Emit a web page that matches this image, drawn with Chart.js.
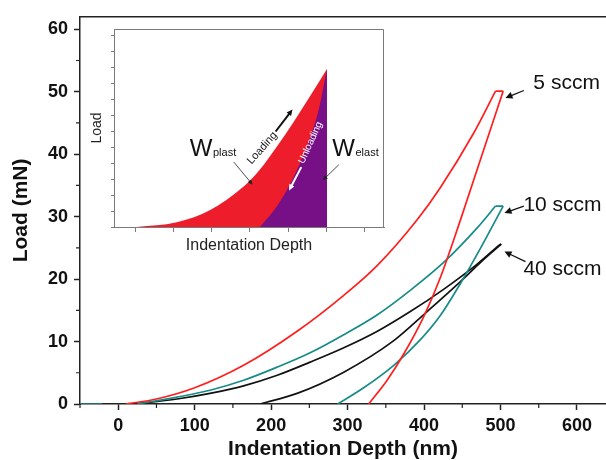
<!DOCTYPE html>
<html lang="en">
<head>
<meta charset="UTF-8">
<title>Load vs Indentation Depth</title>
<script src="https://cdn.jsdelivr.net/npm/chart.js"></script>
<style>
  html, body { margin: 0; padding: 0; background: #fff; }
  #wrap { position: relative; width: 606px; height: 460px; overflow: hidden; }
  #main { position: absolute; left: 0; top: 0; width: 606px; height: 460px; }
  #inset { position: absolute; left: 84px; top: 24px; width: 310px; height: 235px; }
</style>
</head>
<body>
<div id="wrap">
  <canvas id="main" width="606" height="460"></canvas>
  <canvas id="inset" width="310" height="235"></canvas>
</div>
<script>
  const FONT = "'Liberation Sans', Arial, sans-serif";

  // 5 sccm (red)
  const load5x = [10, 50, 100, 164, 234, 295, 339, 391, 421, 465, 493.5];
  const load5y = [0, 0.8, 2.6, 6.2, 11.65, 17.4, 22.2, 29.5, 34.6, 43.4, 50.1];
  const unload5x = [327.6, 351.7, 373.4, 399.6, 421.5, 448, 475, 503.5];
  const unload5y = [0, 3.8, 8, 14, 20.3, 29.6, 39.6, 50.1];

  // 10 sccm (teal)
  const lead10x = [-50, -21];
  const lead10y = [0, 0];
  const load10x = [25, 77, 120, 164, 208, 251, 295, 339, 382, 426, 469.5, 493.5];
  const load10y = [0, 1.1, 2.2, 3.8, 5.9, 8.2, 11.1, 14.3, 18.2, 22.7, 28.2, 31.7];
  const unload10x = [287, 321, 360.4, 395.3, 421.5, 447.6, 475, 503.5];
  const unload10y = [0, 2.6, 6.2, 10.3, 14.2, 19.3, 25.2, 31.7];

  // 40 sccm (black)
  const load40x = [20, 77, 120, 164, 208, 251, 295, 339, 382, 426, 469.5, 497.8];
  const load40y = [0, 0.8, 1.7, 2.9, 4.6, 6.7, 9.0, 11.65, 14.8, 18.4, 22.4, 25.4];
  const unload40x = [186, 234, 295, 360, 404, 447.6, 475, 501];
  const unload40y = [0, 1.7, 5.1, 10.1, 14.8, 19.6, 22.8, 25.6];

  // inset (schematic, arbitrary units)
  const insetLoadX = [0.04, 1.09, 1.95, 2.82, 3.26, 3.69, 4.12, 4.56, 5.01];
  const insetLoadY = [0, 0.3, 1.05, 2.5, 3.6, 5.0, 6.5, 8.15, 9.9];
  const insetUnloadX = [3.26, 3.69, 4.12, 4.56, 4.82, 5.01];
  const insetUnloadY = [0, 1.25, 3.02, 5.52, 7.6, 9.9];

  const pts = (xs, ys) => xs.map((x, i) => ({ x: x, y: ys[i] }));
  const lastPt = (xs, ys) => ({ x: xs[xs.length - 1], y: ys[ys.length - 1] });

  function curve(data, color, smooth) {
    return {
      data: data,
      borderColor: color,
      borderWidth: 1.7,
      pointRadius: 0,
      fill: false,
      cubicInterpolationMode: smooth ? 'monotone' : 'default',
      tension: 0
    };
  }

  function arrow(ctx, x1, y1, x2, y2, color, len, half, lw) {
    const a = Math.atan2(y2 - y1, x2 - x1);
    ctx.save();
    ctx.strokeStyle = color;
    ctx.fillStyle = color;
    ctx.lineWidth = lw;
    ctx.beginPath();
    ctx.moveTo(x1, y1);
    ctx.lineTo(x2 - Math.cos(a) * len * 0.8, y2 - Math.sin(a) * len * 0.8);
    ctx.stroke();
    ctx.beginPath();
    ctx.moveTo(x2, y2);
    ctx.lineTo(x2 - Math.cos(a) * len - Math.sin(a) * half, y2 - Math.sin(a) * len + Math.cos(a) * half);
    ctx.lineTo(x2 - Math.cos(a) * len + Math.sin(a) * half, y2 - Math.sin(a) * len - Math.cos(a) * half);
    ctx.closePath();
    ctx.fill();
    ctx.restore();
  }

  const mainDecor = {
    id: 'mainDecor',
    afterDraw(chart) {
      const ctx = chart.ctx;
      const xs = chart.scales.x, ys = chart.scales.y;
      const a = chart.chartArea;
      ctx.save();
      // top frame line
      ctx.strokeStyle = '#222';
      ctx.lineWidth = 1.5;
      ctx.beginPath();
      ctx.moveTo(a.left, a.top);
      ctx.lineTo(606, a.top);
      ctx.stroke();
      // minor ticks
      ctx.lineWidth = 1.2;
      ctx.beginPath();
      for (let v = -50; v <= 640; v += 100) {
        const px = xs.getPixelForValue(v);
        ctx.moveTo(px, a.bottom);
        ctx.lineTo(px, a.bottom + 4);
      }
      for (let v = 5; v < 62; v += 10) {
        const py = ys.getPixelForValue(v);
        ctx.moveTo(a.left, py);
        ctx.lineTo(a.left - 4, py);
      }
      ctx.stroke();
      // sample labels
      ctx.fillStyle = '#111';
      ctx.font = '21px ' + FONT;
      ctx.textBaseline = 'middle';
      ctx.textAlign = 'left';
      const notes = [
        { text: '5 sccm', tx: 543, ty: 51.3, ax: 530.5, ay: 50.2, hx: 506.5, hy: 49.0 },
        { text: '10 sccm', tx: 530, ty: 31.9, ax: 530.5, ay: 31.7, hx: 505.2, hy: 30.6 },
        { text: '40 sccm', tx: 530, ty: 21.6, ax: 532.7, ay: 22.8, hx: 505.2, hy: 24.4 }
      ];
      notes.forEach(n => {
        ctx.fillText(n.text, xs.getPixelForValue(n.tx), ys.getPixelForValue(n.ty));
        arrow(ctx, xs.getPixelForValue(n.ax), ys.getPixelForValue(n.ay),
          xs.getPixelForValue(n.hx), ys.getPixelForValue(n.hy), '#111', 7, 3.5, 1.3);
      });
      ctx.restore();
    }
  };

  const insetDecor = {
    id: 'insetDecor',
    beforeDraw(chart) {
      const a = chart.chartArea, ctx = chart.ctx;
      ctx.save();
      ctx.fillStyle = '#fff';
      ctx.fillRect(a.left, a.top, a.right - a.left, a.bottom - a.top);
      ctx.restore();
    },
    afterDraw(chart) {
      const ctx = chart.ctx;
      const xs = chart.scales.x, ys = chart.scales.y;
      const a = chart.chartArea;
      const X = v => xs.getPixelForValue(v), Y = v => ys.getPixelForValue(v);
      ctx.save();
      ctx.strokeStyle = '#7a7a7a';
      ctx.lineWidth = 1;
      ctx.beginPath();
      ctx.moveTo(a.left, a.top + 0.5);
      ctx.lineTo(a.right - 0.5, a.top + 0.5);
      ctx.lineTo(a.right - 0.5, a.bottom);
      ctx.stroke();

      // W labels with subscripts
      ctx.fillStyle = '#111';
      ctx.textBaseline = 'alphabetic';
      ctx.textAlign = 'left';
      [[1.43, 'plast'], [5.15, 'elast']].forEach(([u, sub]) => {
        ctx.font = '24px ' + FONT;
        const x0 = X(u), y0 = Y(4.42);
        ctx.fillText('W', x0, y0);
        const w = ctx.measureText('W').width;
        ctx.font = '11px ' + FONT;
        ctx.fillText(sub, x0 + w + 0.5, y0);
      });
      arrow(ctx, X(2.58), Y(4.06), X(3.07), Y(2.65), '#222', 5, 2.2, 0.8);
      arrow(ctx, X(5.32), Y(3.9), X(4.9), Y(2.92), '#222', 5, 2.2, 0.8);

      // rotated captions
      ctx.textAlign = 'center';
      ctx.textBaseline = 'middle';
      ctx.save();
      ctx.translate(X(3.32), Y(4.94));
      ctx.rotate(-48.6 * Math.PI / 180);
      ctx.font = '11px ' + FONT;
      ctx.fillStyle = '#111';
      ctx.fillText('Loading', 0, 0);
      ctx.restore();
      arrow(ctx, X(3.67), Y(5.98), X(4.11), Y(7.36), '#111', 6, 2.8, 2);

      ctx.save();
      ctx.translate(X(4.58), Y(5.28));
      ctx.rotate(-65.5 * Math.PI / 180);
      ctx.font = '10px ' + FONT;
      ctx.fillStyle = '#fff';
      ctx.fillText('Unloading', 0, 0);
      ctx.restore();
      arrow(ctx, X(4.34), Y(3.75), X(4.02), Y(2.29), '#fff', 6, 2.8, 2);
      ctx.restore();
    }
  };

  new Chart(document.getElementById('main'), {
    type: 'line',
    data: {
      datasets: [
        curve(pts(load5x, load5y), '#ff1f1f', true),
        curve([lastPt(load5x, load5y), lastPt(unload5x, unload5y)], '#ff1f1f', false),
        curve(pts(unload5x, unload5y), '#ff1f1f', true),
        curve(pts(lead10x, lead10y), '#178b88', false),
        curve(pts(load10x, load10y), '#178b88', true),
        curve([lastPt(load10x, load10y), lastPt(unload10x, unload10y)], '#178b88', false),
        curve(pts(unload10x, unload10y), '#178b88', true),
        curve(pts(load40x, load40y), '#121212', true),
        curve([lastPt(load40x, load40y), lastPt(unload40x, unload40y)], '#121212', false),
        curve(pts(unload40x, unload40y), '#121212', true)
      ]
    },
    options: {
      responsive: false,
      animation: false,
      layout: { padding: { top: 11, right: 0, bottom: 0, left: 0 } },
      plugins: { legend: { display: false }, tooltip: { enabled: false } },
      scales: {
        x: {
          type: 'linear', min: -50, max: 638,
          ticks: { stepSize: 100, includeBounds: false, color: '#111', padding: 5, maxRotation: 0,
                   font: { family: FONT, size: 18, weight: 'bold' } },
          grid: { drawOnChartArea: false, tickLength: 6, tickColor: '#222', tickWidth: 1.5 },
          border: { color: '#222', width: 1.5 },
          title: { display: true, text: 'Indentation Depth (nm)', color: '#111',
                   font: { family: FONT, size: 21, weight: 'bold', lineHeight: 1 },
                   padding: { top: 0, bottom: 0.5 } },
          afterFit: s => { s.height = 56; }
        },
        y: {
          type: 'linear', min: 0, max: 62,
          ticks: { stepSize: 10, includeBounds: false, color: '#111', padding: 6,
                   font: { family: FONT, size: 18, weight: 'bold' } },
          grid: { drawOnChartArea: false, tickLength: 6, tickColor: '#222', tickWidth: 1.5 },
          border: { color: '#222', width: 1.5 },
          title: { display: true, text: 'Load (mN)', color: '#111',
                   font: { family: FONT, size: 21, weight: 'bold', lineHeight: 1 },
                   padding: { top: 11, bottom: 0 } },
          afterFit: s => { s.width = 80; }
        }
      }
    },
    plugins: [mainDecor]
  });

  new Chart(document.getElementById('inset'), {
    type: 'line',
    data: {
      datasets: [
        {
          data: pts(insetUnloadX, insetUnloadY), pointRadius: 0, borderWidth: 0,
          borderColor: 'rgba(0,0,0,0)', backgroundColor: '#770f87', fill: 'origin',
          cubicInterpolationMode: 'monotone'
        },
        {
          data: pts(insetLoadX, insetLoadY), pointRadius: 0, borderWidth: 0,
          borderColor: 'rgba(0,0,0,0)', backgroundColor: '#ee1d2b', fill: 'origin',
          cubicInterpolationMode: 'monotone'
        }
      ]
    },
    options: {
      responsive: false,
      animation: false,
      layout: { padding: { top: 5, right: 10, bottom: 0, left: 0 } },
      plugins: { legend: { display: false }, tooltip: { enabled: false } },
      scales: {
        x: {
          type: 'linear', min: -0.55, max: 6.5,
          ticks: { stepSize: 1, includeBounds: false, display: false },
          grid: { drawOnChartArea: false, tickLength: 5, tickColor: '#7a7a7a', tickWidth: 1 },
          border: { color: '#7a7a7a', width: 1 },
          title: { display: true, text: 'Indentation Depth', color: '#222',
                   font: { family: FONT, size: 16, lineHeight: 1 }, padding: { top: 0, bottom: 5 } },
          afterFit: s => { s.height = 32; }
        },
        y: {
          type: 'linear', min: 0, max: 12.4,
          ticks: { stepSize: 1, includeBounds: false, display: false },
          grid: { drawOnChartArea: false, tickLength: 3, tickColor: '#7a7a7a', tickWidth: 1 },
          border: { color: '#7a7a7a', width: 1 },
          title: { display: true, text: 'Load', color: '#222',
                   font: { family: FONT, size: 14, lineHeight: 1 }, padding: { top: 6, bottom: 0 } },
          afterFit: s => { s.width = 30; }
        }
      }
    },
    plugins: [insetDecor]
  });
</script>
</body>
</html>
